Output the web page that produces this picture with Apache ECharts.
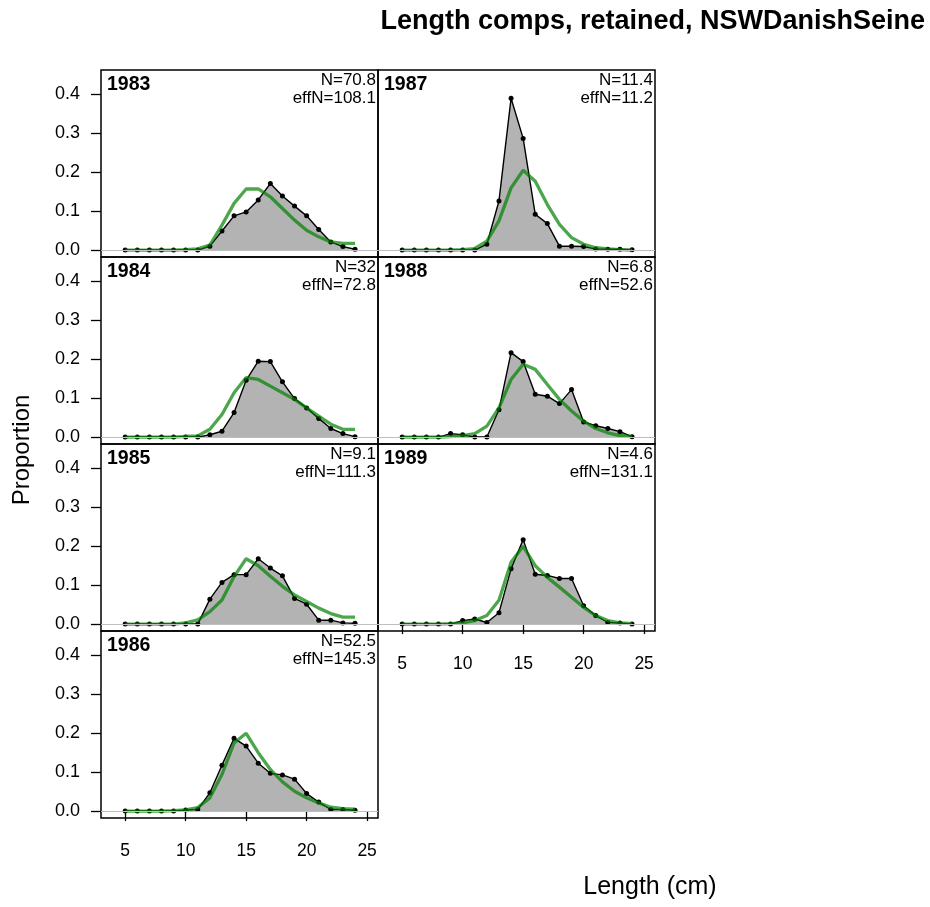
<!DOCTYPE html>
<html>
<head>
<meta charset="utf-8">
<script src="https://cdn.jsdelivr.net/npm/echarts@6/dist/echarts.min.js"></script>
<style>
html,body{margin:0;padding:0;background:#fff;}
#chart{width:930px;height:907px;}
</style>
</head>
<body>
<div id="chart"></div>
<script>
// ---- data ----
var bins = [5,6,7,8,9,10,11,12,13,14,15,16,17,18,19,20,21,22,23,24];
var years = ['1983','1984','1985','1986','1987','1988','1989'];
var nLabels = ['N=70.8','N=32','N=9.1','N=52.5','N=11.4','N=6.8','N=4.6'];
var effNLabels = ['effN=108.1','effN=72.8','effN=111.3','effN=145.3','effN=11.2','effN=52.6','effN=131.1'];
var xTicks = [5,10,15,20,25];
var yTicks = [0,0.1,0.2,0.3,0.4];

var obs1983 = [0,0,0,0,0,0,0,0.010,0.049,0.088,0.098,0.129,0.171,0.139,0.113,0.088,0.053,0.021,0.009,0.002];
var exp1983 = [0,0,0,0,0,0.001,0.003,0.013,0.064,0.120,0.157,0.157,0.137,0.107,0.077,0.051,0.034,0.021,0.017,0.017];
var obs1984 = [0,0,0,0,0,0,0,0.006,0.015,0.063,0.146,0.195,0.194,0.142,0.099,0.075,0.048,0.022,0.009,0.001];
var exp1984 = [0,0,0,0,0,0.002,0.003,0.020,0.058,0.114,0.153,0.148,0.131,0.114,0.097,0.075,0.054,0.033,0.020,0.020];
var obs1985 = [0,0,0,0,0,0,0,0.064,0.107,0.127,0.127,0.168,0.144,0.124,0.066,0.051,0.010,0.010,0.003,0.002];
var exp1985 = [0,0,0,0,0,0.003,0.011,0.032,0.062,0.122,0.168,0.150,0.123,0.097,0.075,0.058,0.041,0.027,0.018,0.018];
var obs1986 = [0,0,0,0,0,0.003,0.004,0.047,0.118,0.187,0.167,0.123,0.097,0.093,0.082,0.045,0.023,0.004,0.004,0.002];
var exp1986 = [0,0,0,0,0.001,0.003,0.009,0.034,0.094,0.175,0.200,0.150,0.107,0.075,0.051,0.034,0.021,0.010,0.006,0.005];
var obs1987 = [0,0,0,0,0,0,0,0.015,0.126,0.390,0.287,0.092,0.068,0.010,0.010,0.009,0.003,0.002,0.002,0.001];
var exp1987 = [0,0,0,0,0,0.001,0.004,0.023,0.075,0.160,0.205,0.177,0.117,0.066,0.032,0.015,0.006,0.003,0.001,0];
var obs1988 = [0,0,0,0,0.009,0.006,0,0,0.070,0.217,0.194,0.110,0.105,0.086,0.122,0.039,0.029,0.022,0.014,0.001];
var exp1988 = [0,0,0,0,0.001,0.004,0.009,0.028,0.075,0.148,0.187,0.174,0.135,0.097,0.067,0.041,0.022,0.011,0.004,0.002];
var obs1989 = [0,0,0,0,0,0.009,0.013,0.004,0.029,0.142,0.217,0.128,0.125,0.117,0.117,0.047,0.022,0.004,0.003,0];
var exp1989 = [0,0,0,0,0.001,0.003,0.009,0.022,0.061,0.159,0.200,0.150,0.120,0.095,0.069,0.043,0.022,0.009,0.003,0.001];

var obsAll = [obs1983, obs1984, obs1985, obs1986, obs1987, obs1988, obs1989];
var expAll = [exp1983, exp1984, exp1985, exp1986, exp1987, exp1988, exp1989];

// ---- layout ----
var FONT = '"Liberation Sans", Arial, Helvetica, sans-serif';
var colLeft = [101, 378];
var panelW = 277;
var rowTop = [70, 257, 444, 631];
var panelH = 187;
// panel i -> [col,row]
var pos = [[0,0],[0,1],[0,2],[0,3],[1,0],[1,1],[1,2]];
var bottomPanels = {3:true, 6:true};

function zip(v){ return bins.map(function(b,k){ return [b, v[k]]; }); }

var grids = [], xAxes = [], yAxes = [], series = [], graphics = [];
pos.forEach(function(p, i){
  var L = colLeft[p[0]], T = rowTop[p[1]];
  grids.push({left: L, top: T, width: panelW, height: panelH, show: true,
    borderColor: '#000', borderWidth: 1.5, backgroundColor: 'transparent', containLabel: false});
  var isBottom = !!bottomPanels[i];
  var isLeft = p[0] === 0;
  xAxes.push({type: 'value', gridIndex: i, min: 3, max: 25.9,
    axisLine: {show: false}, splitLine: {show: false},
    axisTick: {show: isBottom, customValues: xTicks, length: 10, lineStyle: {color: '#000', width: 1.3}},
    axisLabel: {show: isBottom, customValues: xTicks, margin: 24, color: '#000', fontSize: 17.5, fontFamily: FONT}
  });
  yAxes.push({type: 'value', gridIndex: i, min: -0.0178, max: 0.4628,
    axisLine: {show: false}, splitLine: {show: false},
    axisTick: {show: isLeft, customValues: yTicks, length: 10, lineStyle: {color: '#000', width: 1.3}},
    axisLabel: {show: isLeft, customValues: yTicks, margin: 21, color: '#000', fontSize: 18, fontFamily: FONT,
      formatter: function(v){ return Number(v).toFixed(1); }}
  });
  series.push({type: 'line', xAxisIndex: i, yAxisIndex: i, data: zip(obsAll[i]),
    symbol: 'circle', symbolSize: 5, showSymbol: true,
    lineStyle: {color: '#000', width: 1.4}, itemStyle: {color: '#000'},
    areaStyle: {color: '#b3b3b3', opacity: 1, origin: 0},
    z: 2, silent: true,
    markLine: {silent: true, symbol: 'none', label: {show: false},
      lineStyle: {color: '#bebebe', width: 1, type: 'solid'}, data: [{yAxis: 0}]}
  });
  series.push({type: 'line', xAxisIndex: i, yAxisIndex: i, data: zip(expAll[i]),
    showSymbol: false, symbol: 'none', lineStyle: {color: 'rgba(0,128,0,0.7)', width: 3.3},
    z: 3, silent: true
  });
  graphics.push({type: 'text', x: L + 6, y: T + 15, style: {text: years[i], fill: '#000',
    font: 'bold 19.5px ' + FONT, textAlign: 'left', textVerticalAlign: 'middle'}});
  graphics.push({type: 'text', x: L + panelW - 2, y: T + 10, style: {text: nLabels[i], fill: '#000',
    font: '17px ' + FONT, textAlign: 'right', textVerticalAlign: 'middle'}});
  graphics.push({type: 'text', x: L + panelW - 2, y: T + 28, style: {text: effNLabels[i], fill: '#000',
    font: '17px ' + FONT, textAlign: 'right', textVerticalAlign: 'middle'}});
});

graphics.push({type: 'text', x: 925, y: 22, style: {text: 'Length comps, retained, NSWDanishSeine', fill: '#000',
  font: 'bold 27px ' + FONT, textAlign: 'right', textVerticalAlign: 'middle'}});
graphics.push({type: 'text', x: 22, y: 450, rotation: Math.PI / 2, style: {text: 'Proportion', fill: '#000',
  font: '24px ' + FONT, textAlign: 'center', textVerticalAlign: 'middle'}});
graphics.push({type: 'text', x: 650, y: 887, style: {text: 'Length (cm)', fill: '#000',
  font: '25px ' + FONT, textAlign: 'center', textVerticalAlign: 'middle'}});

var chart = echarts.init(document.getElementById('chart'), null, {renderer: 'canvas'});
chart.setOption({
  animation: false,
  backgroundColor: '#fff',
  grid: grids,
  xAxis: xAxes,
  yAxis: yAxes,
  series: series,
  graphic: graphics
});
</script>
</body>
</html>
